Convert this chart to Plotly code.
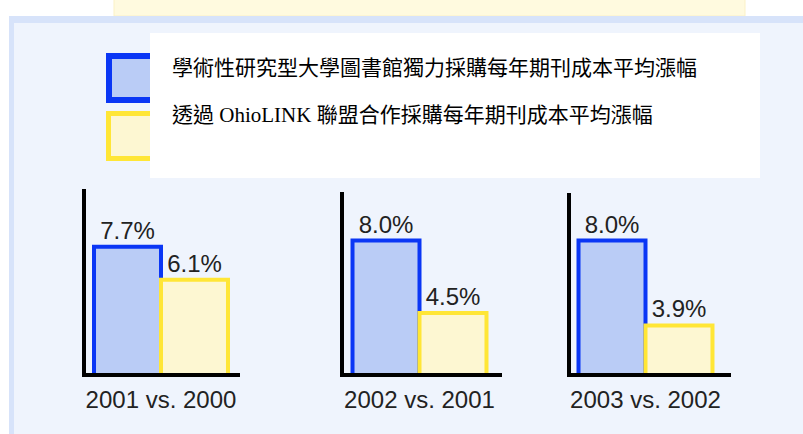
import plotly.graph_objects as go

# ---- data ----
categories = ["2001 vs. 2000", "2002 vs. 2001", "2003 vs. 2002"]
independent = [7.7, 8.0, 8.0]      # 學術性研究型大學圖書館獨力採購
consortium = [6.1, 4.5, 3.9]       # 透過 OhioLINK 聯盟合作採購
series_names = [
    "學術性研究型大學圖書館獨力採購每年期刊成本平均漲幅",
    "透過 OhioLINK 聯盟合作採購每年期刊成本平均漲幅",
]

# ---- styling / layout helpers ----
W, H = 803, 434
BLUE_LINE, BLUE_FILL = "#0A36F5", "#BACCF6"
YEL_LINE, YEL_FILL = "#FFE636", "#FDF7D2"
PANEL_BORDER, PANEL_FILL = "#D7E3FA", "#EFF4FD"

def px(x):
    return x / W

def py(y):
    return 1 - y / H

# plot areas in pixels: (left, right, top, bottom)
areas = [(86, 240, 189, 373), (344, 502, 192, 373), (571, 731, 193, 373)]
group_centers = [161, 419.5, 645.5]
unit_px = 154.0      # pixels per category unit
k_px = 20.7          # pixels per percentage point
base_val = 1.6       # value at bottom of axis

fig = go.Figure()
layout_axes = {}
for i, cat in enumerate(categories):
    sfx = "" if i == 0 else str(i + 1)
    l, r, t, b = areas[i]
    c = group_centers[i]
    fig.add_trace(go.Bar(
        x=[cat], y=[independent[i]], name=series_names[0],
        xaxis="x" + sfx, yaxis="y" + sfx,
        marker=dict(color=BLUE_FILL, line=dict(color=BLUE_LINE, width=4)),
        texttemplate="%{y:.1f}%", textposition="outside", constraintext="none",
        textfont=dict(family="Liberation Sans, Arial", size=24, color="#222222"),
        showlegend=False, hoverinfo="skip",
    ))
    fig.add_trace(go.Bar(
        x=[cat], y=[consortium[i]], name=series_names[1],
        xaxis="x" + sfx, yaxis="y" + sfx,
        marker=dict(color=YEL_FILL, line=dict(color=YEL_LINE, width=4)),
        texttemplate="%{y:.1f}%", textposition="outside", constraintext="none",
        textfont=dict(family="Liberation Sans, Arial", size=24, color="#222222"),
        showlegend=False, hoverinfo="skip",
    ))
    layout_axes["xaxis" + sfx] = dict(
        domain=[px(l), px(r)], anchor="y" + sfx, type="category",
        range=[-(c - l) / unit_px, (r - c) / unit_px],
        showline=True, linecolor="black", linewidth=4,
        showgrid=False, zeroline=False, ticks="",
        tickfont=dict(family="Liberation Sans, Arial", size=24, color="#222222"),
        ticklabelstandoff=2, fixedrange=True,
    )
    layout_axes["yaxis" + sfx] = dict(
        domain=[py(b), py(t)], anchor="x" + sfx,
        range=[base_val, base_val + (b - t) / k_px],
        showline=True, linecolor="black", linewidth=4,
        showgrid=False, zeroline=False, showticklabels=False, ticks="",
        fixedrange=True,
    )

shapes = [
    # top yellow strip
    dict(type="rect", xref="paper", yref="paper", x0=px(114), x1=px(745), y0=py(16), y1=py(-2),
         fillcolor="#FFFADF", line=dict(color="#FBF1C6", width=1), layer="below"),
    # panel border + fill
    dict(type="rect", xref="paper", yref="paper", x0=px(9), x1=px(810), y0=py(440), y1=py(16),
         fillcolor=PANEL_BORDER, line=dict(width=0), layer="below"),
    dict(type="rect", xref="paper", yref="paper", x0=px(14), x1=px(810), y0=py(440), y1=py(23),
         fillcolor=PANEL_FILL, line=dict(width=0), layer="below"),
    # legend swatches
    dict(type="rect", xref="paper", yref="paper", x0=px(109), x1=px(170), y0=py(100), y1=py(56),
         fillcolor=BLUE_FILL, line=dict(color=BLUE_LINE, width=6), layer="below"),
    dict(type="rect", xref="paper", yref="paper", x0=px(108.5), x1=px(170), y0=py(158.5), y1=py(113.5),
         fillcolor=YEL_FILL, line=dict(color=YEL_LINE, width=5), layer="below"),
    # white legend box
    dict(type="rect", xref="paper", yref="paper", x0=px(150), x1=px(760), y0=py(178), y1=py(33),
         fillcolor="white", line=dict(width=0), layer="below"),
]

legend_font = dict(family="Liberation Serif, Noto Sans CJK TC", size=21, color="black")
annotations = [
    dict(text=series_names[0], xref="paper", yref="paper", x=px(170), y=py(68),
         xanchor="left", yanchor="middle", showarrow=False, font=legend_font),
    dict(text=series_names[1], xref="paper", yref="paper", x=px(170), y=py(115),
         xanchor="left", yanchor="middle", showarrow=False, font=legend_font),
]

fig.update_layout(
    width=W, height=H, margin=dict(l=0, r=0, t=0, b=0),
    paper_bgcolor="white", plot_bgcolor="rgba(0,0,0,0)",
    barmode="group", bargap=0.13, bargroupgap=0,
    shapes=shapes, annotations=annotations, showlegend=False,
    **layout_axes,
)

fig.write_html(
    "out.html",
    config={"displayModeBar": False},
    post_script="document.body.style.margin='0';document.body.style.overflow='hidden';",
)
